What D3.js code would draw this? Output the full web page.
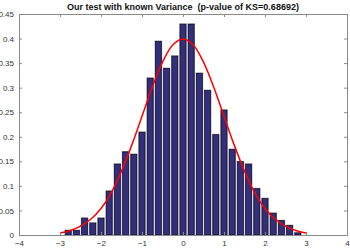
<!DOCTYPE html>
<html>
<head>
<meta charset="utf-8">
<script src="https://cdn.jsdelivr.net/npm/d3@7"></script>
<style>
  body { margin: 0; background: #fff; }
  svg { display: block; font-family: "Liberation Sans", Arial, Helvetica, sans-serif; }
  .axis path, .axis line { stroke: #8a8a8a; }
  .axis text { fill: #333; font-size: 8px; }
</style>
</head>
<body>
<svg id="chart" width="350" height="250"></svg>
<script>
// histogram of the sample (density per bin, bin width 0.2)
var binCenters = [-2.8, -2.6, -2.4, -2.2, -2.0, -1.8, -1.6, -1.4, -1.2, -1.0,
                  -0.8, -0.6, -0.4, -0.2, 0.0, 0.2, 0.4, 0.6, 0.8, 1.0,
                  1.2, 1.4, 1.6, 1.8, 2.0, 2.2, 2.4, 2.6, 2.8];
var density = [0.01, 0.01, 0.035, 0.025, 0.035, 0.09, 0.145, 0.17, 0.165, 0.21,
               0.32, 0.395, 0.34, 0.365, 0.43, 0.43, 0.33, 0.295, 0.205, 0.255,
               0.175, 0.15, 0.145, 0.095, 0.075, 0.045, 0.03, 0.02, 0.005];
var binWidth = 0.2;

// fitted curve
var curveX = [-3, -2.75, -2.5, -2.25, -2, -1.75, -1.5, -1.25, -1, -0.75, -0.5, -0.25, 0,
              0.25, 0.5, 0.75, 1, 1.25, 1.5, 1.75, 2, 2.25, 2.5, 2.75, 3];
var curveY = [0.004, 0.009, 0.018, 0.032, 0.054, 0.086, 0.130, 0.183, 0.242, 0.301, 0.352, 0.387, 0.399,
              0.387, 0.352, 0.301, 0.242, 0.183, 0.130, 0.086, 0.054, 0.032, 0.018, 0.009, 0.004];

var xTicks = [-4, -3, -2, -1, 0, 1, 2, 3, 4];
var yTicks = [0, 0.05, 0.1, 0.15, 0.2, 0.25, 0.3, 0.35, 0.4, 0.45];
var title = "Our test with known Variance\u00a0\u00a0(p-value of KS=0.68692)";

var margin = {top: 14, right: 3, bottom: 15, left: 19};
var svg = d3.select("#chart");
var width = 350 - margin.left - margin.right;
var height = 250 - margin.top - margin.bottom;

var x = d3.scaleLinear().domain([-4, 4]).range([0, width]);
var y = d3.scaleLinear().domain([0, 0.45]).range([height, 0]);

var g = svg.append("g")
  .attr("transform", "translate(" + margin.left + "," + margin.top + ")");

// bars
var bw = x(binWidth) - x(0);
var bars = g.append("g").attr("class", "bars");
bars.selectAll("rect.bg")
  .data(binCenters).enter().append("rect")
    .attr("class", "bg")
    .attr("x", function (d) { return x(d - binWidth / 2) + 0.3; })
    .attr("y", function (d, i) { return y(density[i]) - 0.5; })
    .attr("width", bw - 0.6)
    .attr("height", function (d, i) { return height - y(density[i]) + 0.5; })
    .attr("fill", "#9a9a9a");
bars.selectAll("rect.bar")
  .data(binCenters).enter().append("rect")
    .attr("class", "bar")
    .attr("x", function (d) { return x(d - binWidth / 2) + 1.2; })
    .attr("y", function (d, i) { return y(density[i]) + 0.4; })
    .attr("width", bw - 2.4)
    .attr("height", function (d, i) { return Math.max(0, height - y(density[i]) - 0.4); })
    .attr("fill", "#342e7f")
    .attr("stroke", "#0d0b26")
    .attr("stroke-width", 0.7);

// fitted curve
var line = d3.line()
  .x(function (d) { return x(d); })
  .y(function (d, i) { return y(curveY[i]); })
  .curve(d3.curveCatmullRom);
g.append("path")
  .datum(curveX)
  .attr("d", line)
  .attr("fill", "none")
  .attr("stroke", "#ff0000")
  .attr("stroke-width", 1.5);

// axes (ticks point inward, box all round)
g.append("g").attr("class", "axis")
  .attr("transform", "translate(0," + height + ")")
  .call(d3.axisBottom(x).tickValues(xTicks).tickSize(-3).tickPadding(5).tickFormat(d3.format("d")));
g.append("g").attr("class", "axis")
  .call(d3.axisTop(x).tickValues(xTicks).tickSize(-3).tickFormat(""));
g.append("g").attr("class", "axis")
  .call(d3.axisLeft(y).tickValues(yTicks).tickSize(-3).tickPadding(5).tickFormat(d3.format("~g")));
g.append("g").attr("class", "axis")
  .attr("transform", "translate(" + width + ",0)")
  .call(d3.axisRight(y).tickValues(yTicks).tickSize(-3).tickFormat(""));
g.selectAll(".axis .domain").attr("stroke", "#8a8a8a");

// title
svg.append("text")
  .attr("x", margin.left + width / 2)
  .attr("y", 10)
  .attr("text-anchor", "middle")
  .attr("font-size", "9px")
  .attr("font-weight", "bold")
  .attr("fill", "#111")
  .text(title);
</script>
</body>
</html>
